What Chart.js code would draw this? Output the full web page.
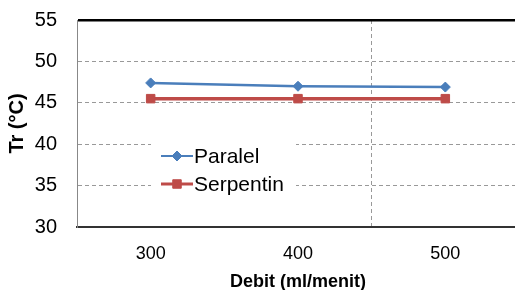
<!DOCTYPE html>
<html>
<head>
<meta charset="utf-8">
<script src="https://cdn.jsdelivr.net/npm/chart.js@4/dist/chart.umd.min.js"></script>
<style>
html,body{margin:0;padding:0;background:#fff;overflow:hidden;}
#wrap{position:relative;width:526px;height:293px;}
</style>
</head>
<body>
<div id="wrap"><canvas id="c"></canvas></div>
<script>
const categories = ["300", "400", "500"];
const paralel = [47.4, 47.0, 46.9];
const serpentin = [45.5, 45.5, 45.5];
const seriesNames = ["Paralel", "Serpentin"];
const yTicks = [30, 35, 40, 45, 50, 55];
const xTitle = "Debit (ml/menit)";
const yTitle = "Tr (°C)";

const BLUE = "#4a7ebb";
const RED = "#be4b48";
const FONT = "'Liberation Sans', Arial, sans-serif";

const legendPlugin = {
  id: "insideLegend",
  afterDraw(chart) {
    const ctx = chart.ctx;
    const area = chart.chartArea;
    const x0 = area.left + 84;
    const y0 = area.top + 136;
    ctx.save();
    ctx.fillStyle = "#fff";
    ctx.fillRect(x0 - 10, y0 - 16, 145, 58);
    const items = [
      {name: seriesNames[0], color: BLUE, style: "rectRot", r: 5, w: 2},
      {name: seriesNames[1], color: RED, style: "rect", r: 6, w: 3}
    ];
    items.forEach((it, i) => {
      const y = y0 + i * 28;
      ctx.strokeStyle = it.color;
      ctx.lineWidth = it.w;
      ctx.beginPath();
      ctx.moveTo(x0, y);
      ctx.lineTo(x0 + 32, y);
      ctx.stroke();
      ctx.fillStyle = it.color;
      ctx.strokeStyle = it.color;
      ctx.lineWidth = 1;
      Chart.helpers.drawPoint(ctx, {pointStyle: it.style, radius: it.r, borderWidth: 1}, x0 + 16, y);
      ctx.fillStyle = "#000";
      ctx.font = "21px " + FONT;
      ctx.textBaseline = "middle";
      ctx.textAlign = "left";
      ctx.fillText(it.name, x0 + 33, y + 1);
    });
    ctx.restore();
  }
};

const ctx = document.getElementById("c");
new Chart(ctx, {
  type: "line",
  data: {
    labels: categories,
    datasets: [
      {
        label: seriesNames[0], data: paralel,
        borderColor: BLUE, backgroundColor: BLUE, borderWidth: 2.5,
        pointStyle: "rectRot", pointRadius: 5, pointBorderWidth: 1, tension: 0
      },
      {
        label: seriesNames[1], data: serpentin,
        borderColor: RED, backgroundColor: RED, borderWidth: 3.5,
        pointStyle: "rect", pointRadius: 6, pointBorderWidth: 1, tension: 0
      }
    ]
  },
  options: {
    responsive: true,
    maintainAspectRatio: false,
    animation: false,
    devicePixelRatio: 1,
    layout: {padding: {left: 0, right: 0, top: 20, bottom: 0}},
    plugins: {legend: {display: false}, tooltip: {enabled: false}},
    scales: {
      x: {
        type: "category",
        offset: true,
        grid: {
          offset: true,
          drawTicks: false,
          lineWidth: 1,
          color: (c) => (c.index === 2 ? "#999" : "rgba(0,0,0,0)")
        },
        border: {display: true, color: "#333", width: 2, dash: [4, 3]},
        ticks: {color: "#000", font: {size: 18, family: FONT}, padding: 16, maxRotation: 0},
        title: {display: true, text: xTitle, color: "#000", font: {size: 18, weight: "bold", family: FONT}, padding: {top: 12, bottom: 0}},
        afterFit: (s) => { s.height = 66; s.paddingLeft = 0; s.paddingRight = 0; }
      },
      y: {
        min: 30, max: 55,
        afterBuildTicks: (s) => { s.ticks = yTicks.map(v => ({value: v})); },
        grid: {
          drawTicks: false,
          color: (c) => (c.tick && c.tick.value === 55 ? "#000" : (c.tick && c.tick.value === 30 ? "rgba(0,0,0,0)" : "#999")),
          lineWidth: (c) => (c.tick && c.tick.value === 55 ? 2.5 : 1)
        },
        border: {
          display: true, color: "#888", width: 1,
          dash: (c) => (c.tick && c.tick.value === 55 ? [] : [4, 3])
        },
        ticks: {color: "#000", font: {size: 20, family: FONT}, padding: 20},
        title: {display: true, text: yTitle, color: "#000", font: {size: 20, weight: "bold", family: FONT}, padding: {top: 5, bottom: 4}},
        afterFit: (s) => { s.width = 77; s.paddingTop = 0; s.paddingBottom = 0; }
      }
    }
  },
  plugins: [legendPlugin]
});
</script>
</body>
</html>
